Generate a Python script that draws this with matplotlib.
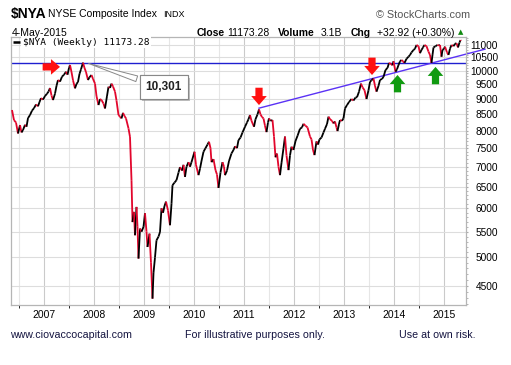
import numpy as np
import matplotlib
matplotlib.use('Agg')
import matplotlib.pyplot as plt
import matplotlib.transforms as mtransforms
import matplotlib.patheffects as pe
from matplotlib.collections import LineCollection
from matplotlib.patches import Polygon
from matplotlib.ticker import FixedLocator, NullFormatter, FixedFormatter

plt.rcParams['font.family'] = ['Liberation Sans', 'DejaVu Sans']

# weekly closes (decimal year, index value)
years = [2006.36, 2006.40, 2006.44, 2006.48, 2006.52, 2006.55, 2006.58, 2006.62, 2006.65, 2006.68,
         2006.72, 2006.76, 2006.80, 2006.84, 2006.88, 2006.91, 2006.94, 2006.98, 2007.02, 2007.06,
         2007.09, 2007.12, 2007.15, 2007.18, 2007.22, 2007.25, 2007.28, 2007.32, 2007.36, 2007.40,
         2007.44, 2007.47, 2007.50, 2007.52, 2007.55, 2007.58, 2007.62, 2007.65, 2007.68, 2007.71,
         2007.74, 2007.78, 2007.81, 2007.84, 2007.88, 2007.91, 2007.95, 2007.98, 2008.02, 2008.05,
         2008.09, 2008.12, 2008.15, 2008.19, 2008.22, 2008.26, 2008.29, 2008.32, 2008.35, 2008.38,
         2008.42, 2008.45, 2008.49, 2008.52, 2008.55, 2008.58, 2008.61, 2008.64, 2008.69, 2008.72,
         2008.75, 2008.77, 2008.80, 2008.82, 2008.85, 2008.87, 2008.89, 2008.92, 2008.95, 2008.99,
         2009.02, 2009.05, 2009.07, 2009.11, 2009.14, 2009.17, 2009.19, 2009.22, 2009.25, 2009.29,
         2009.32, 2009.35, 2009.38, 2009.41, 2009.44, 2009.48, 2009.52, 2009.55, 2009.57, 2009.61,
         2009.65, 2009.69, 2009.72, 2009.76, 2009.79, 2009.82, 2009.85, 2009.89, 2009.92, 2009.95,
         2010.01, 2010.04, 2010.09, 2010.12, 2010.15, 2010.19, 2010.23, 2010.27, 2010.30, 2010.33,
         2010.35, 2010.39, 2010.43, 2010.46, 2010.49, 2010.53, 2010.57, 2010.60, 2010.62, 2010.66,
         2010.70, 2010.75, 2010.79, 2010.82, 2010.86, 2010.89, 2010.93, 2010.97, 2011.02, 2011.06,
         2011.09, 2011.12, 2011.15, 2011.20, 2011.23, 2011.27, 2011.30, 2011.33, 2011.36, 2011.39,
         2011.42, 2011.45, 2011.48, 2011.50, 2011.53, 2011.57, 2011.60, 2011.63, 2011.66, 2011.69,
         2011.72, 2011.75, 2011.79, 2011.82, 2011.85, 2011.89, 2011.92, 2011.95, 2011.99, 2012.03,
         2012.07, 2012.12, 2012.16, 2012.19, 2012.23, 2012.27, 2012.32, 2012.35, 2012.38, 2012.41,
         2012.45, 2012.48, 2012.51, 2012.55, 2012.59, 2012.62, 2012.66, 2012.69, 2012.72, 2012.76,
         2012.79, 2012.82, 2012.85, 2012.87, 2012.90, 2012.92, 2012.96, 2012.99, 2013.02, 2013.06,
         2013.10, 2013.15, 2013.19, 2013.23, 2013.26, 2013.30, 2013.34, 2013.37, 2013.41, 2013.45,
         2013.49, 2013.52, 2013.55, 2013.59, 2013.62, 2013.65, 2013.69, 2013.72, 2013.76, 2013.79,
         2013.83, 2013.87, 2013.90, 2013.94, 2013.97, 2013.99, 2014.03, 2014.06, 2014.09, 2014.12,
         2014.15, 2014.18, 2014.21, 2014.25, 2014.29, 2014.32, 2014.35, 2014.39, 2014.42, 2014.45,
         2014.49, 2014.52, 2014.55, 2014.58, 2014.61, 2014.65, 2014.69, 2014.72, 2014.75, 2014.77,
         2014.79, 2014.83, 2014.87, 2014.90, 2014.92, 2014.95, 2014.97, 2015.00, 2015.02, 2015.06,
         2015.09, 2015.12, 2015.15, 2015.19, 2015.22, 2015.25, 2015.28, 2015.31, 2015.33, 2015.34]
closes = [8640, 8320, 8250, 7920, 8170, 7950, 8020, 8180, 8120, 8385,
          8480, 8620, 8700, 8820, 8760, 8900, 9030, 8980, 9100, 9180,
          9250, 9375, 9120, 8966, 9180, 9450, 9658, 9600, 9780, 9850,
          9960, 9850, 10100, 10211, 9950, 9650, 9364, 9520, 9590, 9880,
          10050, 10301, 10100, 9950, 9658, 9760, 9839, 9700, 9530, 9100,
          8801, 9000, 8966, 8850, 8690, 9100, 9420, 9380, 9530, 9430,
          9250, 8950, 8480, 8430, 8375, 8550, 8450, 8375, 8070, 7820,
          6660, 5700, 5920, 5428, 6030, 5600, 4978, 5565, 5500, 5600,
          5890, 5500, 5197, 5460, 4900, 4290, 4720, 5000, 5328, 5400,
          5495, 6000, 5900, 6050, 6150, 5950, 5634, 6100, 6537, 6600,
          6660, 6850, 6990, 6900, 7050, 6740, 7000, 7120, 7000, 7120,
          7400, 7050, 6785, 6950, 7150, 7400, 7500, 7600, 7680, 7500,
          7120, 7200, 6913, 6800, 6470, 6850, 7120, 7000, 6785, 6900,
          7150, 7355, 7450, 7550, 7500, 7728, 7800, 7950, 8120, 8250,
          8350, 8480, 8300, 8120, 8350, 8500, 8660, 8500, 8420, 8375,
          8150, 7960, 8250, 8375, 8300, 8324, 7830, 7250, 7350, 7000,
          6785, 7100, 7500, 7830, 7300, 6913, 7300, 7540, 7450, 7700,
          7850, 8060, 8100, 8210, 8150, 8100, 7830, 7750, 7450, 7309,
          7690, 7600, 7750, 7800, 7950, 8060, 8200, 8430, 8350, 8300,
          8220, 8280, 8100, 7990, 8200, 8324, 8300, 8380, 8690, 8800,
          8900, 9000, 8950, 9050, 9060, 9250, 9530, 9400, 9300, 9000,
          9300, 9590, 9650, 9710, 9450, 9250, 9450, 9658, 9700, 9770,
          10024, 10100, 10290, 10250, 10200, 10355, 9960, 10050, 10211, 10350,
          10404, 10350, 10290, 10450, 10530, 10600, 10700, 10797, 10850, 11000,
          10950, 10670, 10800, 10900, 11000, 10950, 10730, 10600, 10290, 10600,
          10900, 10950, 11000, 10980, 11000, 10530, 10800, 10850, 10930, 10700,
          10600, 10850, 11000, 10950, 11050, 11070, 10900, 11100, 11200, 11173.28]

year_ticks = list(range(2007, 2016))
price_ticks = list(range(4500, 11001, 500))
peak_year, peak_value = 2007.84, 10301
trend_x = [2011.30, 2015.82]
trend_y = [8700, 10830]
right_arrows = [(2007.32, 10140)]
down_arrows = [(2011.30, 8800), (2013.56, 9840)]
up_arrows = [(2014.07, 9840), (2014.83, 10140)]

fig = plt.figure(figsize=(5.11, 3.65), dpi=100)
W, H = 511, 365
ax = fig.add_axes([11 / W, 1 - 305 / H, 455 / W, 268 / H])
ax.set_yscale('log')
ax.set_xlim(2006.34, 2015.44)
ax.set_ylim(4190, 11330)

# grid
ax.xaxis.set_major_locator(FixedLocator(year_ticks))
ax.xaxis.set_minor_locator(FixedLocator([y + 0.5 for y in range(2006, 2016)]))
ax.set_xticklabels([str(y) for y in year_ticks])
ax.yaxis.set_major_locator(FixedLocator(price_ticks))
ax.yaxis.set_major_formatter(FixedFormatter([str(p) for p in price_ticks]))
ax.yaxis.set_minor_locator(FixedLocator(list(range(4200, 11400, 100))))
ax.yaxis.set_minor_formatter(NullFormatter())
ax.grid(which='major', axis='x', color='#cacaca', lw=0.8)
ax.grid(which='minor', axis='x', color='#e6e6e6', lw=0.8)
ax.grid(which='major', axis='y', color='#dddddd', lw=0.8)
ax.set_axisbelow(True)
ax.yaxis.tick_right()
ax.tick_params(axis='x', length=0, pad=3.5, labelsize=7.5)
ax.tick_params(axis='y', which='major', length=1.5, pad=21.5, labelsize=7.3, color='#aaaaaa')
ax.tick_params(axis='y', which='minor', length=1.5, color='#aaaaaa')
for lab in ax.get_yticklabels():
    lab.set_horizontalalignment('right')
for s in ax.spines.values():
    s.set_color('#b5b5b5')
    s.set_linewidth(0.9)

# price line: black on up weeks, red on down weeks
pts = np.column_stack([years, closes])
segs = np.stack([pts[:-1], pts[1:]], axis=1)
cols = ['#e2062c' if b < a else 'black' for a, b in zip(closes[:-1], closes[1:])]
ax.add_collection(LineCollection(segs, colors=cols, linewidths=1.3, zorder=3))

# horizontal level and trend line
ax.axhline(peak_value, color='#1f1fd0', lw=1.0, zorder=2)
ax.plot(trend_x, trend_y, color='#5a32f5', lw=1.0, zorder=2, clip_on=False)

# callout
ann = ax.annotate('10,301', xy=(peak_year, peak_value), xycoords='data',
                  xytext=(0.336, 0.812), textcoords='axes fraction',
                  ha='center', va='center', fontsize=8.5, fontweight='bold', color='#222222',
                  bbox=dict(boxstyle='square,pad=0.5', fc='white', ec='#888888', lw=0.8),
                  arrowprops=dict(arrowstyle='wedge,tail_width=0.5,shrink_factor=0.5',
                                  fc='white', ec='#888888', lw=0.7), zorder=6)
ann.get_bbox_patch().set_path_effects([pe.withSimplePatchShadow(offset=(1.5, -1.5), shadow_rgbFace='#999999', alpha=0.6), pe.Normal()])

# block arrows
base = np.array([[0, 0], [-5.6, 6.5], [-2.6, 6.5], [-2.6, 12.5], [2.6, 12.5], [2.6, 6.5], [5.6, 6.5]])
def block_arrow(x, y, kind, color):
    if kind == 'down':
        v = base
    elif kind == 'up':
        v = base * [1, -1]
    else:
        v = np.column_stack([-base[:, 1], base[:, 0]])
    tr = (mtransforms.Affine2D().scale(1 / 72) + fig.dpi_scale_trans
          + mtransforms.ScaledTranslation(x, y, ax.transData))
    ax.add_patch(Polygon(v, closed=True, transform=tr, fc=color, ec='none', zorder=7, clip_on=False))

for x, y in right_arrows:
    block_arrow(x, y, 'right', '#ff1010')
for x, y in down_arrows:
    block_arrow(x, y, 'down', '#ff1010')
for x, y in up_arrows:
    block_arrow(x, y, 'up', '#109a10')

# legend
ax.plot([0.004, 0.019], [0.981, 0.981], transform=ax.transAxes, color='black', lw=1.8, zorder=8,
        solid_capstyle='butt')
ax.text(0.026, 0.981, '$NYA (Weekly) 11173.28', transform=ax.transAxes, family='DejaVu Sans Mono',
        fontsize=6.8, va='center', ha='left', zorder=8,
        bbox=dict(boxstyle='square,pad=0.15', fc='white', ec='none'))

# header texts (pixel positions)
def ftext(px, py, s, **kw):
    fig.text(px / W, 1 - py / H, s, va='center', ha='left', **kw)

ftext(11, 14, '$NYA', fontsize=10, fontweight='bold')
ftext(48, 14, 'NYSE Composite Index', fontsize=7.5)
ftext(163, 14.5, 'INDX', fontsize=6.5)
ftext(12, 33, '4-May-2015', fontsize=7.5)
ftext(197, 33, 'Close', fontsize=7.5, fontweight='bold')
ftext(227, 33, '11173.28', fontsize=7.5)
ftext(278, 33, 'Volume', fontsize=7.5, fontweight='bold')
ftext(321, 33, '3.1B', fontsize=7.5)
ftext(351, 33, 'Chg', fontsize=7.5, fontweight='bold')
ftext(377, 33, '+32.92 (+0.30%)', fontsize=7.5)
ftext(458, 32, '\u25b2', fontsize=5, color='#108a10', family='DejaVu Sans')
ftext(376, 15, '\u00a9 StockCharts.com', fontsize=7.8, color='#555555')

# footer
ftext(10, 335, 'www.ciovaccocapital.com', fontsize=7.7, color='#141440')
ftext(185, 335, 'For illustrative purposes only.', fontsize=7.7, color='#141440')
ftext(399, 335, 'Use at own risk.', fontsize=7.7, color='#141440')

fig.savefig('out.png', dpi=100)
